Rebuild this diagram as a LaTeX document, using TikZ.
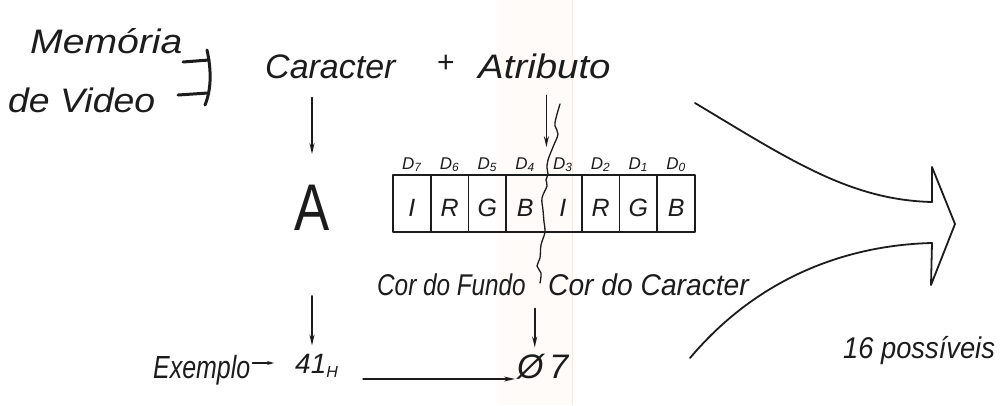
\documentclass[tikz,border=0pt]{standalone}
\usepackage{fontspec}
\setmainfont{Liberation Sans}
\usepackage{graphicx}
\usetikzlibrary{arrows.meta,calc}
\definecolor{ink}{HTML}{1C1C1C}
\definecolor{paperband}{HTML}{FEFBF8}
\definecolor{paperedge}{HTML}{F7EAE2}

\begin{document}
\begin{tikzpicture}[x=1pt,y=-1pt, line cap=round, line join=round,
  hand/.style={font=\fontsize{34}{40}\selectfont\itshape, text=ink, inner sep=0pt, anchor=base west},
  small/.style={font=\fontsize{30}{36}\selectfont\itshape, text=ink, inner sep=0pt, anchor=base west},
  bitlbl/.style={font=\fontsize{17}{20}\selectfont\itshape, text=ink, inner sep=0pt, anchor=base},
  bitval/.style={font=\fontsize{25}{30}\selectfont\itshape, text=ink, inner sep=0pt},
  pen/.style={draw=ink, line width=1.6pt},
  thickpen/.style={draw=ink, line width=3pt},
  arr/.style={pen, -{Stealth[length=11pt,width=5pt]}},
  arrsmall/.style={pen, -{Stealth[length=7pt,width=4pt]}},
]
\useasboundingbox (0,0) rectangle (1002,405);
\fill[white] (0,0) rectangle (1002,405);
\fill[paperband] (498,0) rectangle (572,405);
\draw[paperedge, line width=0.8pt] (572,0) -- (572,405);

% --- headings ---
\node[hand] (mem) at (30,53) {\scalebox{1.15}[1]{Memória}};
\node[hand] (vid) at (8,112) {\scalebox{1.1}[1]{de Video}};
\draw[thickpen] (183,62) -- (209,60);
\draw[thickpen] (207,50) .. controls (211,68) and (212,88) .. (205,105);
\draw[thickpen] (178,95) -- (208,93);

\node[hand] (cara) at (265,78) {Caracter};
\node[font=\fontsize{30}{34}\selectfont, text=ink, inner sep=0pt] (plus) at (446,64) {+};
\node[hand] (atr) at (478,78) {\scalebox{1.13}[1]{Atributo}};

% --- the character ---
\node[font=\fontsize{66}{70}\selectfont, text=ink, inner sep=0pt] (chr) at (312,208) {\scalebox{0.8}[1]{A}};

% --- attribute byte ---
\node[pen, minimum width=302pt, minimum height=57pt, inner sep=0pt] (reg) at (544,203.5) {};
\foreach \k in {1,2,3,5,6,7}
  \draw[pen] ({393+37.75*\k},175) -- ({393+37.75*\k},232);
\foreach \l [count=\i from 0] in {I,R,G,B,I,R,G,B}
  \node[bitval] (v\i) at ({393+37.75*(\i+0.5)},208) {\l};
\foreach \d [count=\i from 0] in {7,6,5,4,3,2,1,0}
  \node[bitlbl] (d\d) at ({393+37.75*(\i+0.5)},169) {D\textsubscript{\d}};

% split between background and foreground nibbles
\draw[draw=ink, line width=1.3pt] plot[smooth, tension=0.6] coordinates {
  (560,104) (556,118) (555,126) (558,134) (553,147) (548,160) (547,168)
  (548,174) (546,180) (547,186) (542,198) (543,210) (544,222) (545,232)
  (541,245) (540,258) (537,266) (541,273) (540,283)};

\node[small] (fundo) at (377,295) {\scalebox{0.81}[1]{Cor do Fundo}};
\node[small] (corc) at (548,295) {\scalebox{0.94}[1]{Cor do Caracter}};

% --- example line ---
\node[font=\fontsize{32}{38}\selectfont\itshape, text=ink, inner sep=0pt, anchor=base west] (ex) at (153,378) {\scalebox{0.78}[1]{Exemplo}};
\node[font=\fontsize{28}{34}\selectfont\itshape, text=ink, inner sep=0pt, anchor=base west] (n41) at (295,373) {41{\fontsize{16}{18}\selectfont\raisebox{-4pt}{H}}};
\node[font=\fontsize{34}{40}\selectfont\itshape, text=ink, inner sep=0pt, anchor=base west] (zero) at (517,378) {Ø\,7};
\node[small] (poss) at (843,358) {\scalebox{0.91}[1]{16 possíveis}};

% --- arrows ---
\draw[arr, shorten <=19pt, shorten >=31pt] (cara.south -| chr.north) -- (chr.north);
\draw[arr, shorten <=17pt, shorten >=27pt] ([xshift=2pt]atr.south) -- ([xshift=2pt]atr.south |- reg.north);
\draw[arr, shorten <=65pt, shorten >=8pt] (chr.south) -- (chr.south |- n41.north);
\draw[arr, shorten <=13pt, shorten >=6pt] ([xshift=-8pt]zero.north |- fundo.south) -- ([xshift=-8pt]zero.north);
\draw[arrsmall, shorten <=2pt, shorten >=21pt] ([yshift=15pt]ex.base east) -- ([yshift=10pt]n41.base west);
\draw[arr, shorten <=25pt, shorten >=2pt] ([yshift=-6pt]n41.base east) -- ([yshift=-1pt]zero.base west);

% --- big hollow arrow: sixteen colours ---
\draw[pen, line width=1.8pt] (695,103) .. controls (790,160) and (850,200) .. (932,202)
  -- (932,167) -- (955,224) -- (931,285) -- (932,243)
  .. controls (850,245) and (760,275) .. (690,358);
\end{tikzpicture}
\end{document}
